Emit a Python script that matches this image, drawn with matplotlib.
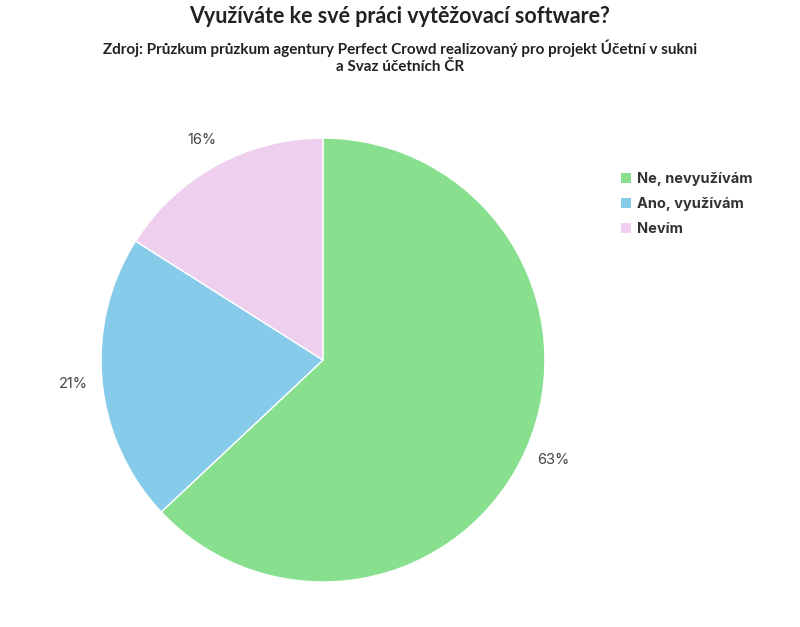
import matplotlib
matplotlib.use('Agg')
import matplotlib.pyplot as plt
from matplotlib.patches import Patch
import numpy as np

# data
labels = ['Ne, nevyužívám', 'Ano, využívám', 'Nevím']
values = [63, 21, 16]
colors = ['#88e08f', '#86cbea', '#efcfee']

title = 'Využíváte ke své práci vytěžovací software?'
subtitle = ('Zdroj: Průzkum průzkum agentury Perfect Crowd realizovaný pro projekt Účetní v sukni\n'
            'a Svaz účetních ČR')

fig = plt.figure(figsize=(8, 6.27), dpi=100)
ax = fig.add_axes([0.12625, 0.0718, 0.555, 0.708])

wedges, texts = ax.pie(values, colors=colors, startangle=90, counterclock=False,
                       wedgeprops=dict(edgecolor='white', linewidth=1))
# percent labels just outside each slice
for w, v in zip(wedges, values):
    ang = np.deg2rad((w.theta1 + w.theta2) / 2)
    ax.text(1.13 * np.cos(ang), 1.13 * np.sin(ang), f'{v}%', ha='center', va='center',
            fontsize=10.5, color='#444444', family='Inter')
ax.set_xlim(-1, 1)
ax.set_ylim(-1, 1)
ax.set_aspect('equal')

fig.text(0.5, 0.973, title, ha='center', va='center', fontsize=15.5, fontweight='bold',
         family='Lato', color='#222222')
fig.text(0.5, 0.909, subtitle, ha='center', va='center', fontsize=11, fontweight='bold',
         family='Lato', color='#222222', linespacing=1.3)

handles = [Patch(facecolor=c, edgecolor='none') for c in colors]
leg = fig.legend(handles, labels, loc='upper left', bbox_to_anchor=(0.76, 0.746),
                 frameon=False, handlelength=0.7, handleheight=0.7, handletextpad=0.4,
                 labelspacing=0.75, prop=dict(family='Inter', weight='bold', size=10.5))
for t in leg.get_texts():
    t.set_color('#333333')

fig.savefig('out.png', dpi=100, facecolor='white')
